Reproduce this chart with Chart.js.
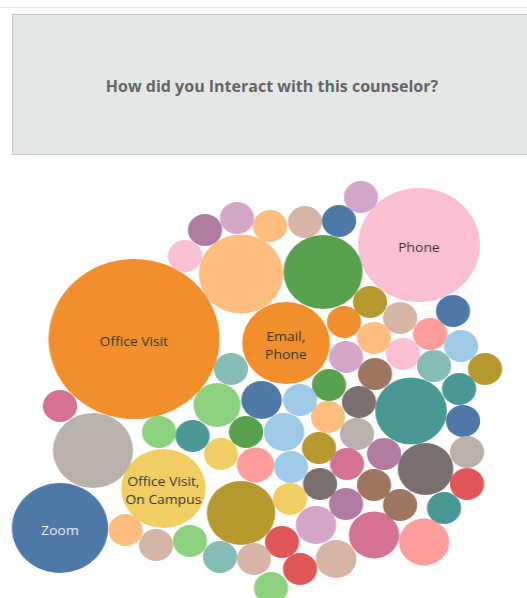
<!DOCTYPE html>
<html>
<head>
<meta charset="utf-8">
<script src="https://cdn.jsdelivr.net/npm/chart.js@4.4.1/dist/chart.umd.min.js"></script>
<style>
  html, body { margin: 0; padding: 0; background: #fff; width: 527px; height: 598px; overflow: hidden; }
  #topline { position: absolute; left: 0; top: 7px; width: 527px; height: 1px; background: #e8e8e8; }
  #header {
    position: absolute; left: 12px; top: 14px; width: 520px; height: 141px;
    background: #e3e7e6; border: 1px solid #c6c6c6; box-sizing: border-box;
    display: flex; align-items: center; justify-content: center; padding-top: 3px;
    font-family: "Open Sans", sans-serif; font-weight: bold; font-size: 16px; color: #666;
  }
  /* the reference picture is a little wider than tall, so stretch the bubbles the same way */
  #wrap { position: absolute; left: 0; top: 0; width: 493px; height: 598px; transform: scaleX(1.069); transform-origin: 0 0; }
</style>
</head>
<body>
<div id="topline"></div>
<div id="header">How did you Interact with this counselor?</div>
<div id="wrap"><canvas id="bubbles"></canvas></div>
<script>
// packed bubble layout (x, y in picture units, r = bubble radius)
const bubbleLabels = [
  'Office Visit', 'Phone', 'Email,\nPhone', 'Zoom', 'Office Visit,\nOn Campus',
  '', '', '', '', '', '', '', '', '', '', '', '', '', '',
  '', '', '', '', '', '', '', '', '', '', '', '', '', '', '', '', '', '', '', '',
  '', '', '', '', '', '', '', '', '', '', '', '', '', '', '', '', '', '', '', '',
  '', '', '', '', '', '', '', '', '', '', '', ''
];
const bubbleX = [
  134, 419, 286, 60, 163.5,
  241, 323, 93, 411, 241, 425.5, 424, 374, 217, 261.5, 284, 316, 336, 255.5,
  205, 237, 185, 270, 305, 339, 361, 231, 370, 400, 453, 344, 374, 430, 461, 346, 403, 434, 485, 375,
  329, 459, 463, 467, 359, 328, 357, 384, 467, 444, 400, 374, 347, 346, 320, 290, 319, 291, 300, 282,
  300, 271, 254, 220, 190, 221, 246, 192.5, 159, 60, 125.5, 156
];
const bubbleY = [
  339, 245, 343, 528, 488.5,
  274, 272, 450.5, 411, 513, 469, 542, 535, 405, 400, 432, 525, 559, 465,
  230, 218, 256, 226, 222, 221, 197, 369, 302, 318, 311, 322, 338, 334, 346, 357, 354, 366, 369, 374,
  385, 389, 421, 452, 402, 417, 434, 454, 484, 508, 505, 485, 464, 504, 484, 499, 448, 467, 400, 542,
  569, 588, 559, 557, 541, 454, 432, 436, 432, 406, 530, 545
];
const bubbleR = [
  80, 57, 41, 45, 39.5,
  39.5, 37, 37.5, 33.5, 32, 26, 23.5, 23.5, 22, 19, 19, 19, 19, 17.5,
  16, 16, 16, 16, 16, 16, 16, 16, 16, 16, 16, 16, 16, 16, 16, 16, 16, 16, 16, 16,
  16, 16, 16, 16, 16, 16, 16, 16, 16, 16, 16, 16, 16, 16, 16, 16, 16, 16, 16, 16,
  16, 16, 16, 16, 16, 16, 16, 16, 16, 16, 16, 16
];
const bubbleColors = [
  '#f28e2b', '#fabfd2', '#f28e2b', '#4e79a7', '#f1ce63',
  '#ffbe7d', '#59a14f', '#bab0ac', '#499894', '#b6992d', '#79706e', '#ff9d9a', '#d37295', '#8cd17d',
  '#4e79a7', '#a0cbe8', '#d4a6c8', '#d7b5a6', '#ff9d9a',
  '#b07aa1', '#d4a6c8', '#fabfd2', '#ffbe7d', '#d7b5a6', '#4e79a7', '#d4a6c8', '#86bcb6', '#b6992d',
  '#d7b5a6', '#4e79a7', '#f28e2b', '#ffbe7d', '#ff9d9a', '#a0cbe8', '#d4a6c8', '#fabfd2', '#86bcb6',
  '#b6992d', '#9d7660',
  '#59a14f', '#499894', '#4e79a7', '#bab0ac', '#79706e', '#ffbe7d', '#bab0ac', '#b07aa1', '#e15759',
  '#499894', '#9d7660', '#9d7660', '#d37295', '#b07aa1', '#79706e', '#f1ce63', '#b6992d', '#a0cbe8',
  '#a0cbe8', '#e15759',
  '#e15759', '#8cd17d', '#d7b5a6', '#86bcb6', '#8cd17d', '#f1ce63', '#59a14f', '#499894', '#8cd17d',
  '#d37295', '#ffbe7d', '#d7b5a6'
];

const points = bubbleX.map((x, i) => ({ x: x, y: bubbleY[i], r: bubbleR[i] }));

// dark or light text depending on the bubble colour
function textColor(hex) {
  const n = parseInt(hex.slice(1), 16);
  const lum = 0.299 * (n >> 16) + 0.587 * ((n >> 8) & 255) + 0.114 * (n & 255);
  return lum < 140 ? '#f2f2f2' : '#333333';
}

const labelPlugin = {
  id: 'bubbleLabels',
  afterDatasetsDraw(chart) {
    const ctx = chart.ctx;
    const meta = chart.getDatasetMeta(0);
    ctx.save();
    ctx.font = '13px "Open Sans", sans-serif';
    ctx.textAlign = 'center';
    ctx.textBaseline = 'middle';
    meta.data.forEach((pt, i) => {
      if (!bubbleLabels[i]) return;
      const lines = bubbleLabels[i].split('\n');
      ctx.fillStyle = textColor(bubbleColors[i]);
      lines.forEach((line, j) => {
        ctx.fillText(line, pt.x, pt.y + 3 + (j - (lines.length - 1) / 2) * 18);
      });
    });
    ctx.restore();
  }
};

new Chart(document.getElementById('bubbles'), {
  type: 'bubble',
  data: {
    datasets: [{
      data: points,
      backgroundColor: bubbleColors,
      borderWidth: 0,
      hoverRadius: 0,
      clip: false
    }]
  },
  options: {
    responsive: true,
    maintainAspectRatio: false,
    animation: false,
    layout: { padding: 0, autoPadding: false },
    scales: {
      x: { type: 'linear', min: 0, max: 527, display: false },
      y: { type: 'linear', min: 0, max: 598, reverse: true, display: false }
    },
    plugins: {
      legend: { display: false },
      tooltip: { enabled: false }
    }
  },
  plugins: [labelPlugin]
});
</script>
</body>
</html>
